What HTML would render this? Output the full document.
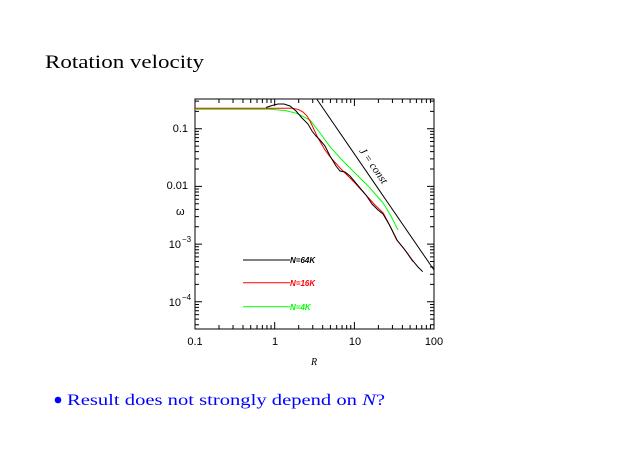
<!DOCTYPE html>
<html><head><meta charset="utf-8"><style>
html,body{margin:0;padding:0;background:#fff}
svg{display:block}
</style></head><body>
<svg id="s" width="644" height="455" xmlns="http://www.w3.org/2000/svg" font-family="Liberation Serif, serif">
<rect width="644" height="455" fill="#fff"/>
<text x="45" y="68" font-size="19" textLength="159" lengthAdjust="spacingAndGlyphs">Rotation velocity</text>
<circle cx="58" cy="400" r="3.3" fill="#0000ff"/>
<text x="67" y="405" font-size="16" fill="#0000ff" textLength="318" lengthAdjust="spacingAndGlyphs">Result does not strongly depend on <tspan font-style="italic">N</tspan>?</text>
<rect x="195" y="99" width="239" height="230" fill="none" stroke="#000" stroke-width="1"/>
<g id="ticks" stroke="#000" stroke-width="1"></g>
<g font-family="Liberation Sans, sans-serif" font-size="11" fill="#000">
<text x="195" y="345" text-anchor="middle">0.1</text>
<text x="275" y="345" text-anchor="middle">1</text>
<text x="355" y="345" text-anchor="middle">10</text>
<text x="434" y="345" text-anchor="middle">100</text>
<text x="188" y="132" text-anchor="end">0.1</text>
<text x="188" y="189" text-anchor="end">0.01</text>
<text x="181" y="248" text-anchor="end">10</text><text x="182" y="242" font-size="8">−3</text>
<text x="181" y="306" text-anchor="end">10</text><text x="182" y="300" font-size="8">−4</text>
<text x="176" y="215" font-size="11">ω</text>
<text x="311" y="365" font-size="10" font-style="italic" font-family="Liberation Serif, serif">R</text>
</g>
<g fill="none" stroke-width="1">
<polyline stroke="#000" points="316.7,99 434,270"/>
<polyline stroke="#00ff00" points="195,109.3 270,109.3 285,110.5 296.7,113.3 310,120 320,133 330,146.7 342,160 355,173 370,188 383.3,203.3 391,216 398,230"/>
<polyline stroke="#ff0000" points="195,108.3 292,108.3 298,109.3 303,112 307,116 310,121 318,138 325,150 330,156.7 340,168 348,176 355,183 365,194 375,205 383.3,213 390,226 396.7,240 405,250 413,261.7"/>
<polyline stroke="#000" points="266,107.5 272,105.5 278,104 284,104 290,106 296,111 302,118 308,124 312,131 316,136 320,140 325,146 330,156 336,166 340,171 345,172 350,176 355,182 360,188 366,195 372,204 378,210 383,214 390,226 397,240 405,250 413,261 418,267 422.7,271.7"/>
<line stroke="#000" x1="243" y1="260" x2="290" y2="260"/>
<line stroke="#ff0000" x1="243" y1="282.7" x2="290" y2="282.7"/>
<line stroke="#00ff00" x1="243" y1="306.7" x2="290" y2="306.7"/>
</g>
<g font-family="Liberation Sans, sans-serif" font-size="8" font-style="italic" font-weight="bold">
<text x="290" y="263" fill="#000">N=64K</text>
<text x="290" y="286" fill="#ff0000">N=16K</text>
<text x="290" y="310" fill="#00ff00">N=4K</text>
</g>
<text x="0" y="0" font-size="11" font-style="italic" transform="translate(359,151) rotate(55)">J = const</text>
</svg>
<script>
var g=document.getElementById('ticks'),d='';
var X0=195,XD=79.7,Y0=128.7,YD=57.7;
for(var e=-1;e<2;e++)for(var m=1;m<10;m++){var x=X0+(e+1+Math.log10(m))*XD;var L=m==1?7:4;
d+='M'+x+' 329v-'+L+'M'+x+' 99v'+L;}
d+='M434 329v-7M434 99v7';
for(var e=-5;e<0;e++)for(var m=1;m<10;m++){var v=e+Math.log10(m);var y=Y0+(-1-v)*YD;if(y<99||y>329)continue;var L=m==1?7:4;
d+='M195 '+y+'h'+L+'M434 '+y+'h-'+L;}
var p=document.createElementNS('http://www.w3.org/2000/svg','path');p.setAttribute('d',d);g.appendChild(p);
</script>
</body></html>
